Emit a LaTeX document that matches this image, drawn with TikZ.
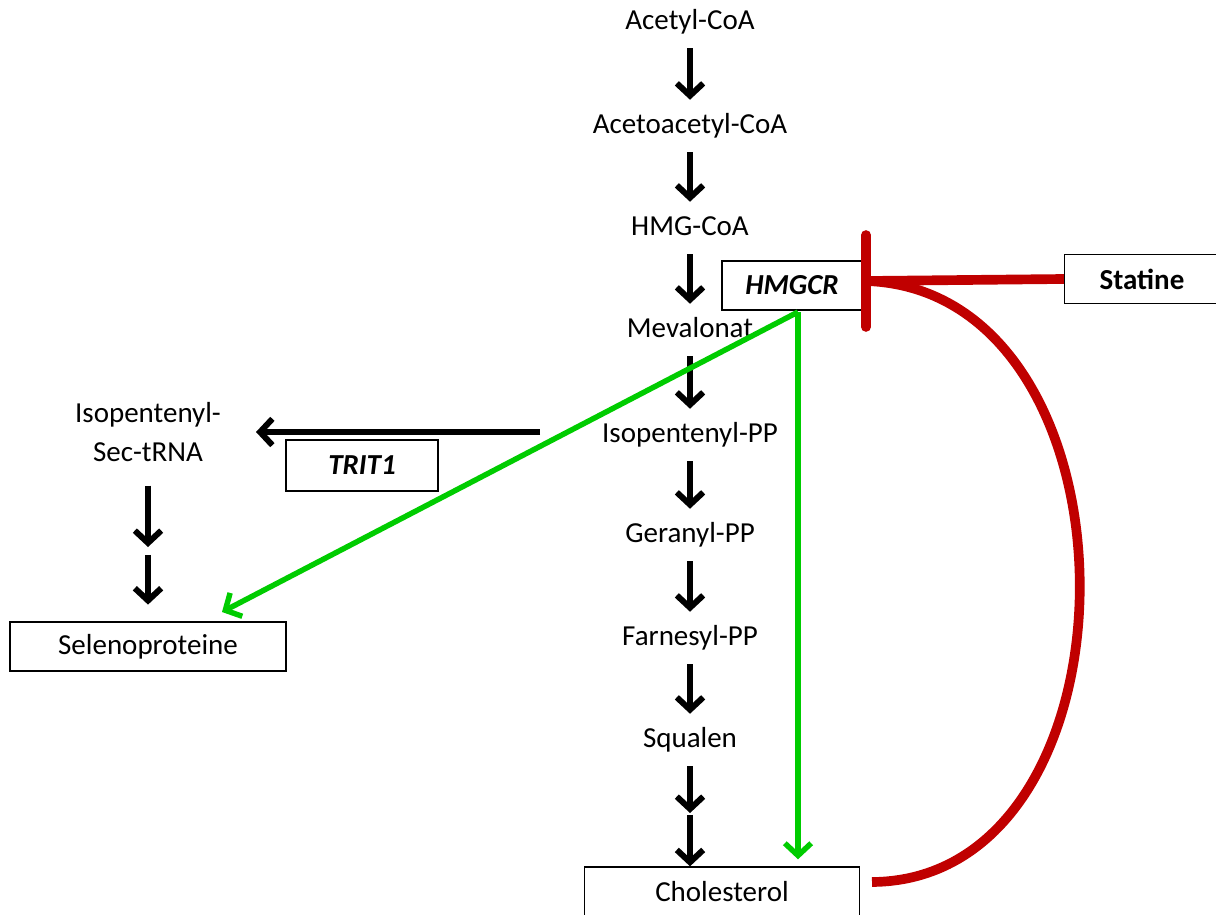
\documentclass[tikz,border=0pt]{standalone}
\usepackage{fontspec}
\setmainfont{Carlito}
\usepackage{tikz}
\usetikzlibrary{positioning}
\usetikzlibrary{calc}
\usetikzlibrary{arrows.meta}

\definecolor{actgreen}{RGB}{0,204,0}
\definecolor{inhred}{RGB}{192,0,0}

\begin{document}
\begin{tikzpicture}[x=0.02cm, y=-0.02cm, font=\fontsize{16.5}{19}\selectfont,
  met/.style={inner xsep=2pt, inner ysep=7pt, text height=12pt, text depth=3.5pt},
  box/.style={draw, line width=0.8pt, inner sep=0pt, minimum height=0.98cm},
  conv/.style={-{Straight Barb[length=7pt,width=15pt]}, line width=3.4pt},
  act/.style={actgreen, -{Straight Barb[length=7pt,width=15pt]}, line width=3.1pt},
  inhib/.style={inhred, line width=5.5pt}]
\useasboundingbox (0,0) rectangle (1216,915);
\node[met] (acoa) at (690,22) {Acetyl-CoA};
\node[met] (aacoa) at (690,126) {Acetoacetyl-CoA};
\node[met] (hmgcoa) at (690,228) {HMG-CoA};
\node[met] (mev) at (690,330) {Mevalonat};
\node[met] (ipp) at (690,435) {Isopentenyl-PP};
\node[met] (gpp) at (690,535) {Geranyl-PP};
\node[met] (fpp) at (690,638) {Farnesyl-PP};
\node[met] (squ) at (690,740) {Squalen};
\node[box, minimum width=5.5cm] (chol) at (722,891.5) {Cholesterol};
\node[box, minimum width=2.8cm] (hmgcr) at (792,285.5) {\textbf{\textit{HMGCR}}};
\node[box, minimum width=3.1cm] (stat) at (1142,279) {\textbf{Statine}};
\node[align=center, font=\fontsize{16.5}{22.5}\selectfont] (isec) at (148,432) {Isopentenyl-\\Sec-tRNA};
\node[box, minimum width=3.04cm, minimum height=1.02cm] (trit) at (362,465.5) {\textbf{\textit{TRIT1}}};
\node[box, minimum width=5.52cm] (sel) at (148,646.5) {Selenoproteine};
\coordinate (sqmid) at (690,813);
\coordinate (semid) at (148,547);
\coordinate (trstart) at (540,432);
\coordinate (trend) at (256,432);
\coordinate (gsrc) at (798,312);
\coordinate (gsel) at (222,612);
\coordinate (bar) at (866,281);
\coordinate (cend) at (872,882);

\draw[conv] (acoa) -- (aacoa);
\draw[conv] (aacoa) -- (hmgcoa);
\draw[conv] (hmgcoa) -- (mev);
\draw[conv] (mev) -- (ipp);
\draw[conv] (ipp) -- (gpp);
\draw[conv] (gpp) -- (fpp);
\draw[conv] (fpp) -- (squ);
\draw[conv] (squ) -- (sqmid);
\draw[conv, shorten <=1pt] (sqmid) -- (sqmid |- chol.north);
\draw[conv] (trstart) -- (trend);
\draw[conv, shorten <=10pt] (isec.south) -- (semid);
\draw[conv, shorten <=4.5pt, shorten >=9.5pt] (semid) -- (sel.north);

\draw[act] (gsrc) -- (gsel);
\draw[act, shorten >=4pt] (gsrc) -- (gsrc |- chol.north);

\draw[inhib] (stat.west) -- (bar);
\draw[inhib, line cap=round] ($(bar)+(0,-46)$) -- ($(bar)+(0,46)$);
\draw[inhib] (bar) .. controls (1150,290) and (1150,880) .. (cend);
\end{tikzpicture}
\end{document}
